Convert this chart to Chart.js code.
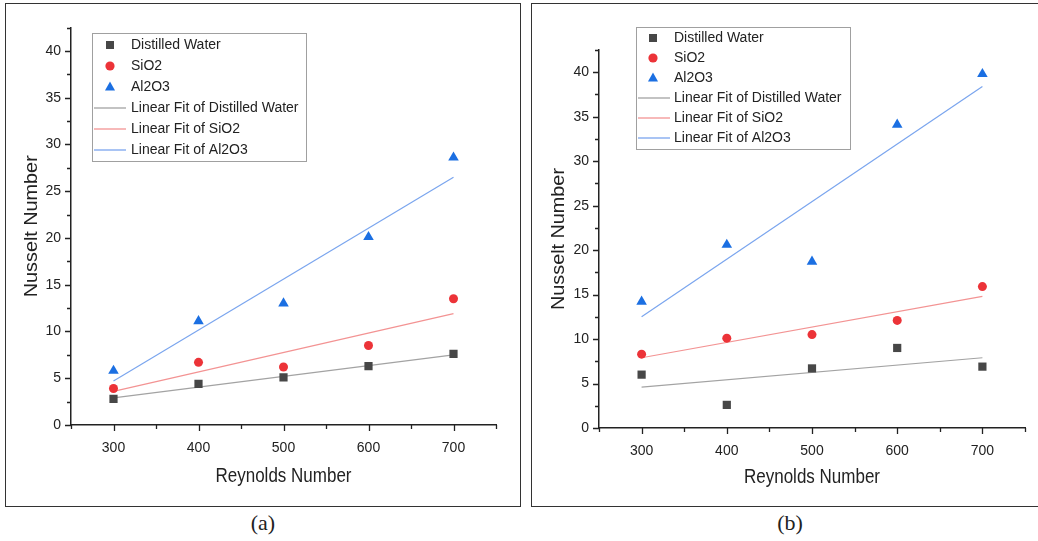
<!DOCTYPE html>
<html lang="en">
<head>
<meta charset="UTF-8">
<title>Nusselt Number vs Reynolds Number</title>
<script src="https://cdn.jsdelivr.net/npm/chart.js"></script>
<style>
    html, body {
        margin: 0;
        padding: 0;
        width: 1038px;
        height: 541px;
        overflow: hidden;
        background: #fff;
    }
    .panel {
        position: absolute;
        box-sizing: border-box;
        border: 1.5px solid #333;
    }
    #panelA { left: 5px; top: 3px; width: 516px; height: 504px; }
    #panelB { left: 531px; top: 3px; width: 520px; height: 504px; }
    canvas { position: absolute; top: 0; }
    #chartA { left: 0; }
    #chartB { left: 531px; }
    .caption {
        position: absolute;
        top: 509px;
        width: 60px;
        text-align: center;
        font-family: "Liberation Serif", "Times New Roman", serif;
        font-size: 22px;
        line-height: 28px;
        color: #222;
    }
</style>
</head>
<body>
<div class="panel" id="panelA"></div>
<div class="panel" id="panelB"></div>
<canvas id="chartA" width="520" height="506"></canvas>
<canvas id="chartB" width="507" height="506"></canvas>
<div class="caption" style="left:233px">(a)</div>
<div class="caption" style="left:760px">(b)</div>
<script>
// Reynolds numbers (x values and x tick labels)
const reynolds = [300, 400, 500, 600, 700];
const nusseltTicks = [0, 5, 10, 15, 20, 25, 30, 35, 40];

// (a)
const waterA = [2.8, 4.4, 5.1, 6.3, 7.6];
const sio2A = [3.9, 6.7, 6.2, 8.5, 13.5];
const al2o3A = [5.8, 11.1, 13.0, 20.1, 28.6];

// (b)
const waterB = [6.0, 2.6, 6.7, 9.0, 6.9];
const sio2B = [8.3, 10.1, 10.5, 12.1, 15.9];
const al2o3B = [14.2, 20.6, 18.7, 34.1, 39.8];

// linear fit lines, values at both ends
const fitX = [300, 700];
const waterFitA = [2.9, 7.5];
const sio2FitA = [3.6, 11.9];
const al2o3FitA = [4.7, 26.5];
const waterFitB = [4.6, 7.9];
const sio2FitB = [7.9, 14.8];
const al2o3FitB = [12.5, 38.4];

const seriesNames = ['Distilled Water', 'SiO2', 'Al2O3'];

const FONT = '"Liberation Sans", Arial, sans-serif';
const markColors = ['#474747', '#ec3338', '#1b6fe2'];
const fitColors = ['#a3a3a3', '#f39393', '#7aa5ee'];
const markStyles = ['rect', 'circle', 'triangle'];
const markRadius = [5.8, 4.5, 6.1];

function pts(xs, ys) {
    return xs.map((x, i) => ({ x: x, y: ys[i] }));
}

// minor + major tick marks pointing out of the axes
const tickMarks = {
    id: 'tickMarks',
    afterDraw(chart) {
        const ctx = chart.ctx;
        const xs = chart.scales.x, ys = chart.scales.y;
        const area = chart.chartArea;
        ctx.save();
        ctx.strokeStyle = '#222';
        ctx.lineWidth = 1.3;
        ctx.beginPath();
        for (let v = xs.min; v <= xs.max + 0.01; v += 50) {
            const px = Math.round(xs.getPixelForValue(v)) + 0.5;
            const len = v % 100 === 0 ? 6 : 4;
            ctx.moveTo(px, area.bottom);
            ctx.lineTo(px, area.bottom + len);
        }
        for (let v = ys.min; v <= ys.max + 0.01; v += 2.5) {
            const py = Math.round(ys.getPixelForValue(v)) + 0.5;
            const len = v % 5 === 0 ? 6 : 4;
            ctx.moveTo(area.left, py);
            ctx.lineTo(area.left - len, py);
        }
        ctx.stroke();
        ctx.restore();
    }
};

// axis titles, slightly stretched along the text like the original export
const axisTitles = {
    id: 'axisTitles',
    afterDraw(chart, args, opts) {
        const ctx = chart.ctx;
        const area = chart.chartArea;
        ctx.save();
        ctx.fillStyle = '#222';
        ctx.textAlign = 'center';
        ctx.textBaseline = 'middle';

        ctx.save();
        ctx.translate((area.left + area.right) / 2, area.bottom + opts.xGap);
        ctx.scale(1, 1.15);
        ctx.font = '17px ' + FONT;
        ctx.fillText(opts.x, 0, 0);
        ctx.restore();

        ctx.save();
        ctx.translate(area.left - opts.yGap, (area.top + area.bottom) / 2);
        ctx.rotate(-Math.PI / 2);
        ctx.scale(1.1, 1);
        ctx.font = '18px ' + FONT;
        ctx.fillText(opts.y, 0, 0);
        ctx.restore();

        ctx.restore();
    }
};

// boxed legend placed inside the plot
const legendBox = {
    id: 'legendBox',
    afterDraw(chart, args, o) {
        const ctx = chart.ctx;
        ctx.save();
        ctx.fillStyle = '#fff';
        ctx.fillRect(o.x, o.y, o.w, o.h);
        ctx.strokeStyle = '#a0a0a0';
        ctx.lineWidth = 1;
        ctx.strokeRect(o.x + 0.5, o.y + 0.5, o.w, o.h);
        ctx.font = '14px ' + FONT;
        ctx.textBaseline = 'middle';
        ctx.textAlign = 'left';
        chart.data.datasets.forEach((ds, i) => {
            const cy = o.y + o.first + i * o.row;
            if (ds.showLine) {
                ctx.strokeStyle = ds.borderColor;
                ctx.lineWidth = 1.3;
                ctx.beginPath();
                ctx.moveTo(o.lineFrom, cy);
                ctx.lineTo(o.lineTo, cy);
                ctx.stroke();
            } else {
                ctx.fillStyle = ds.backgroundColor;
                ctx.beginPath();
                if (ds.pointStyle === 'rect') {
                    ctx.rect(o.markX - 4, cy - 4, 8, 8);
                } else if (ds.pointStyle === 'circle') {
                    ctx.arc(o.markX, cy, 4.6, 0, Math.PI * 2);
                } else {
                    ctx.moveTo(o.markX, cy - 5.5);
                    ctx.lineTo(o.markX + 5, cy + 3.5);
                    ctx.lineTo(o.markX - 5, cy + 3.5);
                    ctx.closePath();
                }
                ctx.fill();
            }
            ctx.fillStyle = '#222';
            ctx.fillText(ds.label, o.textX, cy + 0.5);
        });
        ctx.restore();
    }
};

function makeChart(id, marks, fits, frame, legend) {
    const datasets = [];
    marks.forEach((ys, i) => {
        datasets.push({
            label: seriesNames[i],
            data: pts(reynolds, ys),
            showLine: false,
            pointStyle: markStyles[i],
            pointRadius: markRadius[i],
            pointBorderWidth: 0,
            backgroundColor: markColors[i],
            borderColor: markColors[i]
        });
    });
    fits.forEach((ys, i) => {
        datasets.push({
            label: 'Linear Fit of ' + seriesNames[i],
            data: pts(fitX, ys),
            showLine: true,
            pointRadius: 0,
            borderWidth: 1.2,
            borderColor: fitColors[i],
            backgroundColor: fitColors[i]
        });
    });

    return new Chart(document.getElementById(id), {
        type: 'scatter',
        data: { datasets: datasets },
        plugins: [tickMarks, axisTitles, legendBox],
        options: {
            responsive: false,
            animation: false,
            events: [],
            layout: {
                autoPadding: false,
                padding: { left: 0, top: frame.top, right: frame.right, bottom: 0 }
            },
            plugins: {
                legend: { display: false },
                tooltip: { enabled: false },
                axisTitles: { x: 'Reynolds Number', y: 'Nusselt Number', xGap: frame.xGap, yGap: frame.yGap },
                legendBox: legend
            },
            scales: {
                x: {
                    type: 'linear',
                    min: 250,
                    max: 750,
                    afterBuildTicks: s => { s.ticks = reynolds.map(v => ({ value: v })); },
                    afterFit: s => { s.height = frame.xHeight; },
                    grid: { display: false, drawTicks: false },
                    border: { display: true, color: '#222', width: 1.5 },
                    ticks: {
                        autoSkip: false,
                        maxRotation: 0,
                        padding: 15,
                        color: '#222',
                        font: { family: FONT, size: 14 }
                    }
                },
                y: {
                    type: 'linear',
                    min: 0,
                    max: 42.5,
                    afterBuildTicks: s => { s.ticks = nusseltTicks.map(v => ({ value: v })); },
                    afterFit: s => { s.width = frame.left; },
                    grid: { display: false, drawTicks: false },
                    border: { display: true, color: '#222', width: 1.5 },
                    ticks: {
                        padding: 10,
                        color: '#222',
                        font: { family: FONT, size: 14 }
                    }
                }
            }
        }
    });
}

makeChart('chartA',
    [waterA, sio2A, al2o3A],
    [waterFitA, sio2FitA, al2o3FitA],
    { left: 71, top: 27.5, right: 24, xHeight: 81, xGap: 52, yGap: 39 },
    { x: 92, y: 33, w: 214, h: 128, first: 12, row: 21, markX: 110, textX: 131, lineFrom: 94, lineTo: 126 }
);

makeChart('chartB',
    [waterB, sio2B, al2o3B],
    [waterFitB, sio2FitB, al2o3FitB],
    { left: 68, top: 50, right: 13, xHeight: 78, xGap: 50, yGap: 40 },
    { x: 105, y: 27, w: 214, h: 122, first: 11, row: 20, markX: 122, textX: 143, lineFrom: 107, lineTo: 139 }
);
</script>
</body>
</html>
